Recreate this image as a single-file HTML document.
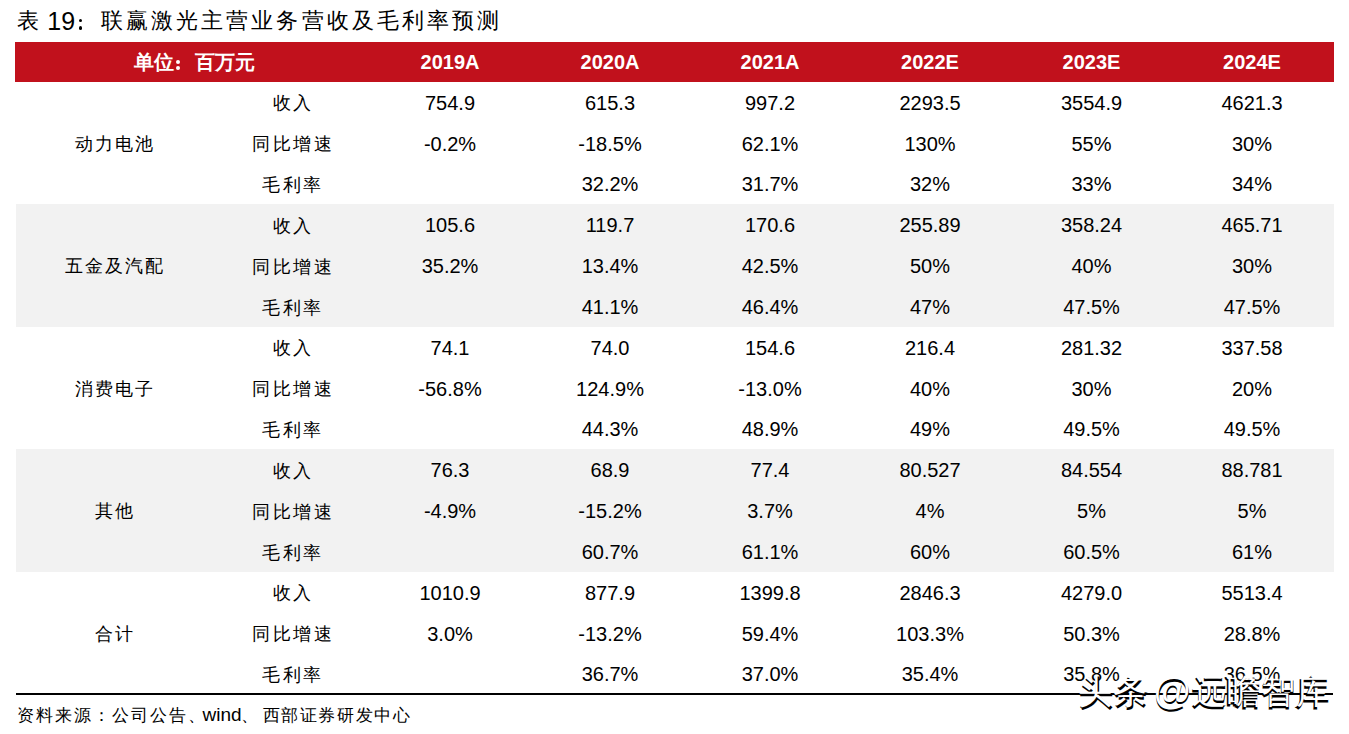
<!DOCTYPE html>
<html><head><meta charset="utf-8">
<style>
html,body{margin:0;padding:0;background:#fff;}
body{width:1349px;height:734px;position:relative;overflow:hidden;font-family:"Liberation Sans",sans-serif;color:#000;}
.t{position:absolute;white-space:nowrap;line-height:30px;height:30px;}
.bar{position:absolute;left:15px;top:42px;width:1319px;height:40px;background:#c1111c;}
.grey{position:absolute;left:16px;width:1318px;height:123px;background:#f2f2f2;}
.line{position:absolute;left:16px;top:693px;width:1317px;height:2px;background:#000;}
.dot{position:absolute;width:4px;height:4px;border-radius:1px;background:#000;}
.c{position:absolute;width:200px;height:30px;line-height:30px;text-align:center;white-space:nowrap;}
.hy{color:#fff;font-weight:bold;font-size:20px;}
.cj{font-size:17.5px;}
.cj span{letter-spacing:2.5px;margin-right:-2.5px;}
.num{font-size:20px;}
.gl span{letter-spacing:2px;margin-right:-2px;}
.wm{position:absolute;font-size:34px;line-height:44px;white-space:nowrap;letter-spacing:0.5px;}
</style></head><body>
<div class="bar"></div>
<div class="grey" style="top:204px"></div>
<div class="grey" style="top:449px"></div>
<div class="line"></div>
<div class="t" style="left:16.5px;top:6px;font-size:21.5px">表</div>
<div class="t" style="left:47.3px;top:6px;font-size:25px">19</div>
<div class="dot" style="left:78.8px;top:18.7px;width:3.6px;height:3.6px;border-radius:50%"></div>
<div class="dot" style="left:78.8px;top:26.4px;width:3.6px;height:3.6px;border-radius:50%"></div>
<div class="t" style="left:101px;top:6px;font-size:21.5px;letter-spacing:3.07px">联赢激光主营业务营收及毛利率预测</div>
<div class="t" style="left:134px;top:46.5px;font-size:19.5px;color:#fff;font-weight:bold;letter-spacing:0px">单位</div>
<div class="dot" style="left:176px;top:60px;background:#fff;border-radius:2px"></div>
<div class="dot" style="left:176px;top:66px;background:#fff;border-radius:2px"></div>
<div class="t" style="left:195px;top:46.5px;font-size:19.5px;color:#fff;font-weight:bold;letter-spacing:0px">百万元</div>
<div class="c hy" style="left:350.0px;top:47.1px"><span>2019A</span></div>
<div class="c hy" style="left:510.0px;top:47.1px"><span>2020A</span></div>
<div class="c hy" style="left:670.0px;top:47.1px"><span>2021A</span></div>
<div class="c hy" style="left:830.0px;top:47.1px"><span>2022E</span></div>
<div class="c hy" style="left:991.5px;top:47.1px"><span>2023E</span></div>
<div class="c hy" style="left:1152.0px;top:47.1px"><span>2024E</span></div>
<div class="c cj gl" style="left:13.8px;top:128.8px"><span>动力电池</span></div>
<div class="c cj" style="left:191.8px;top:88.4px"><span>收入</span></div>
<div class="c num" style="left:350.0px;top:87.7px"><span>754.9</span></div>
<div class="c num" style="left:510.0px;top:87.7px"><span>615.3</span></div>
<div class="c num" style="left:670.0px;top:87.7px"><span>997.2</span></div>
<div class="c num" style="left:830.0px;top:87.7px"><span>2293.5</span></div>
<div class="c num" style="left:991.5px;top:87.7px"><span>3554.9</span></div>
<div class="c num" style="left:1152.0px;top:87.7px"><span>4621.3</span></div>
<div class="c cj" style="left:191.8px;top:129.2px"><span>同比增速</span></div>
<div class="c num" style="left:350.0px;top:128.6px"><span>-0.2%</span></div>
<div class="c num" style="left:510.0px;top:128.6px"><span>-18.5%</span></div>
<div class="c num" style="left:670.0px;top:128.6px"><span>62.1%</span></div>
<div class="c num" style="left:830.0px;top:128.6px"><span>130%</span></div>
<div class="c num" style="left:991.5px;top:128.6px"><span>55%</span></div>
<div class="c num" style="left:1152.0px;top:128.6px"><span>30%</span></div>
<div class="c cj" style="left:191.8px;top:170.1px"><span>毛利率</span></div>
<div class="c num" style="left:510.0px;top:169.4px"><span>32.2%</span></div>
<div class="c num" style="left:670.0px;top:169.4px"><span>31.7%</span></div>
<div class="c num" style="left:830.0px;top:169.4px"><span>32%</span></div>
<div class="c num" style="left:991.5px;top:169.4px"><span>33%</span></div>
<div class="c num" style="left:1152.0px;top:169.4px"><span>34%</span></div>
<div class="c cj gl" style="left:13.8px;top:251.2px"><span>五金及汽配</span></div>
<div class="c cj" style="left:191.8px;top:210.9px"><span>收入</span></div>
<div class="c num" style="left:350.0px;top:210.2px"><span>105.6</span></div>
<div class="c num" style="left:510.0px;top:210.2px"><span>119.7</span></div>
<div class="c num" style="left:670.0px;top:210.2px"><span>170.6</span></div>
<div class="c num" style="left:830.0px;top:210.2px"><span>255.89</span></div>
<div class="c num" style="left:991.5px;top:210.2px"><span>358.24</span></div>
<div class="c num" style="left:1152.0px;top:210.2px"><span>465.71</span></div>
<div class="c cj" style="left:191.8px;top:251.8px"><span>同比增速</span></div>
<div class="c num" style="left:350.0px;top:251.1px"><span>35.2%</span></div>
<div class="c num" style="left:510.0px;top:251.1px"><span>13.4%</span></div>
<div class="c num" style="left:670.0px;top:251.1px"><span>42.5%</span></div>
<div class="c num" style="left:830.0px;top:251.1px"><span>50%</span></div>
<div class="c num" style="left:991.5px;top:251.1px"><span>40%</span></div>
<div class="c num" style="left:1152.0px;top:251.1px"><span>30%</span></div>
<div class="c cj" style="left:191.8px;top:292.6px"><span>毛利率</span></div>
<div class="c num" style="left:510.0px;top:291.9px"><span>41.1%</span></div>
<div class="c num" style="left:670.0px;top:291.9px"><span>46.4%</span></div>
<div class="c num" style="left:830.0px;top:291.9px"><span>47%</span></div>
<div class="c num" style="left:991.5px;top:291.9px"><span>47.5%</span></div>
<div class="c num" style="left:1152.0px;top:291.9px"><span>47.5%</span></div>
<div class="c cj gl" style="left:13.8px;top:373.8px"><span>消费电子</span></div>
<div class="c cj" style="left:191.8px;top:333.4px"><span>收入</span></div>
<div class="c num" style="left:350.0px;top:332.7px"><span>74.1</span></div>
<div class="c num" style="left:510.0px;top:332.7px"><span>74.0</span></div>
<div class="c num" style="left:670.0px;top:332.7px"><span>154.6</span></div>
<div class="c num" style="left:830.0px;top:332.7px"><span>216.4</span></div>
<div class="c num" style="left:991.5px;top:332.7px"><span>281.32</span></div>
<div class="c num" style="left:1152.0px;top:332.7px"><span>337.58</span></div>
<div class="c cj" style="left:191.8px;top:374.2px"><span>同比增速</span></div>
<div class="c num" style="left:350.0px;top:373.6px"><span>-56.8%</span></div>
<div class="c num" style="left:510.0px;top:373.6px"><span>124.9%</span></div>
<div class="c num" style="left:670.0px;top:373.6px"><span>-13.0%</span></div>
<div class="c num" style="left:830.0px;top:373.6px"><span>40%</span></div>
<div class="c num" style="left:991.5px;top:373.6px"><span>30%</span></div>
<div class="c num" style="left:1152.0px;top:373.6px"><span>20%</span></div>
<div class="c cj" style="left:191.8px;top:415.1px"><span>毛利率</span></div>
<div class="c num" style="left:510.0px;top:414.4px"><span>44.3%</span></div>
<div class="c num" style="left:670.0px;top:414.4px"><span>48.9%</span></div>
<div class="c num" style="left:830.0px;top:414.4px"><span>49%</span></div>
<div class="c num" style="left:991.5px;top:414.4px"><span>49.5%</span></div>
<div class="c num" style="left:1152.0px;top:414.4px"><span>49.5%</span></div>
<div class="c cj gl" style="left:13.8px;top:496.2px"><span>其他</span></div>
<div class="c cj" style="left:191.8px;top:455.9px"><span>收入</span></div>
<div class="c num" style="left:350.0px;top:455.2px"><span>76.3</span></div>
<div class="c num" style="left:510.0px;top:455.2px"><span>68.9</span></div>
<div class="c num" style="left:670.0px;top:455.2px"><span>77.4</span></div>
<div class="c num" style="left:830.0px;top:455.2px"><span>80.527</span></div>
<div class="c num" style="left:991.5px;top:455.2px"><span>84.554</span></div>
<div class="c num" style="left:1152.0px;top:455.2px"><span>88.781</span></div>
<div class="c cj" style="left:191.8px;top:496.8px"><span>同比增速</span></div>
<div class="c num" style="left:350.0px;top:496.1px"><span>-4.9%</span></div>
<div class="c num" style="left:510.0px;top:496.1px"><span>-15.2%</span></div>
<div class="c num" style="left:670.0px;top:496.1px"><span>3.7%</span></div>
<div class="c num" style="left:830.0px;top:496.1px"><span>4%</span></div>
<div class="c num" style="left:991.5px;top:496.1px"><span>5%</span></div>
<div class="c num" style="left:1152.0px;top:496.1px"><span>5%</span></div>
<div class="c cj" style="left:191.8px;top:537.6px"><span>毛利率</span></div>
<div class="c num" style="left:510.0px;top:536.9px"><span>60.7%</span></div>
<div class="c num" style="left:670.0px;top:536.9px"><span>61.1%</span></div>
<div class="c num" style="left:830.0px;top:536.9px"><span>60%</span></div>
<div class="c num" style="left:991.5px;top:536.9px"><span>60.5%</span></div>
<div class="c num" style="left:1152.0px;top:536.9px"><span>61%</span></div>
<div class="c cj gl" style="left:13.8px;top:618.8px"><span>合计</span></div>
<div class="c cj" style="left:191.8px;top:578.4px"><span>收入</span></div>
<div class="c num" style="left:350.0px;top:577.7px"><span>1010.9</span></div>
<div class="c num" style="left:510.0px;top:577.7px"><span>877.9</span></div>
<div class="c num" style="left:670.0px;top:577.7px"><span>1399.8</span></div>
<div class="c num" style="left:830.0px;top:577.7px"><span>2846.3</span></div>
<div class="c num" style="left:991.5px;top:577.7px"><span>4279.0</span></div>
<div class="c num" style="left:1152.0px;top:577.7px"><span>5513.4</span></div>
<div class="c cj" style="left:191.8px;top:619.2px"><span>同比增速</span></div>
<div class="c num" style="left:350.0px;top:618.5px"><span>3.0%</span></div>
<div class="c num" style="left:510.0px;top:618.5px"><span>-13.2%</span></div>
<div class="c num" style="left:670.0px;top:618.5px"><span>59.4%</span></div>
<div class="c num" style="left:830.0px;top:618.5px"><span>103.3%</span></div>
<div class="c num" style="left:991.5px;top:618.5px"><span>50.3%</span></div>
<div class="c num" style="left:1152.0px;top:618.5px"><span>28.8%</span></div>
<div class="c cj" style="left:191.8px;top:660.1px"><span>毛利率</span></div>
<div class="c num" style="left:510.0px;top:659.4px"><span>36.7%</span></div>
<div class="c num" style="left:670.0px;top:659.4px"><span>37.0%</span></div>
<div class="c num" style="left:830.0px;top:659.4px"><span>35.4%</span></div>
<div class="c num" style="left:991.5px;top:659.4px"><span>35.8%</span></div>
<div class="c num" style="left:1152.0px;top:659.4px"><span>36.5%</span></div>
<div class="t" style="left:16.5px;top:701px;font-size:16.8px;letter-spacing:2.0px">资料来源：公司公告、</div>
<div class="t" style="left:202.5px;top:700px;font-size:19px">wind</div>
<div class="t" style="left:241px;top:701px;font-size:16.8px;letter-spacing:1.6px">、<span style="margin-left:3px">西部证券研发中心</span></div>
<div class="wm" style="left:1079px;top:670px;color:#000;font-weight:700">头条 <span style="font-size:38px;position:relative;top:1px;margin-left:-4px">@</span>远瞻智库</div>
<div class="wm" style="left:1078px;top:668px;color:#fff;font-weight:400">头条 <span style="font-size:38px;position:relative;top:1px;margin-left:-4px">@</span>远瞻智库</div>
</body></html>
